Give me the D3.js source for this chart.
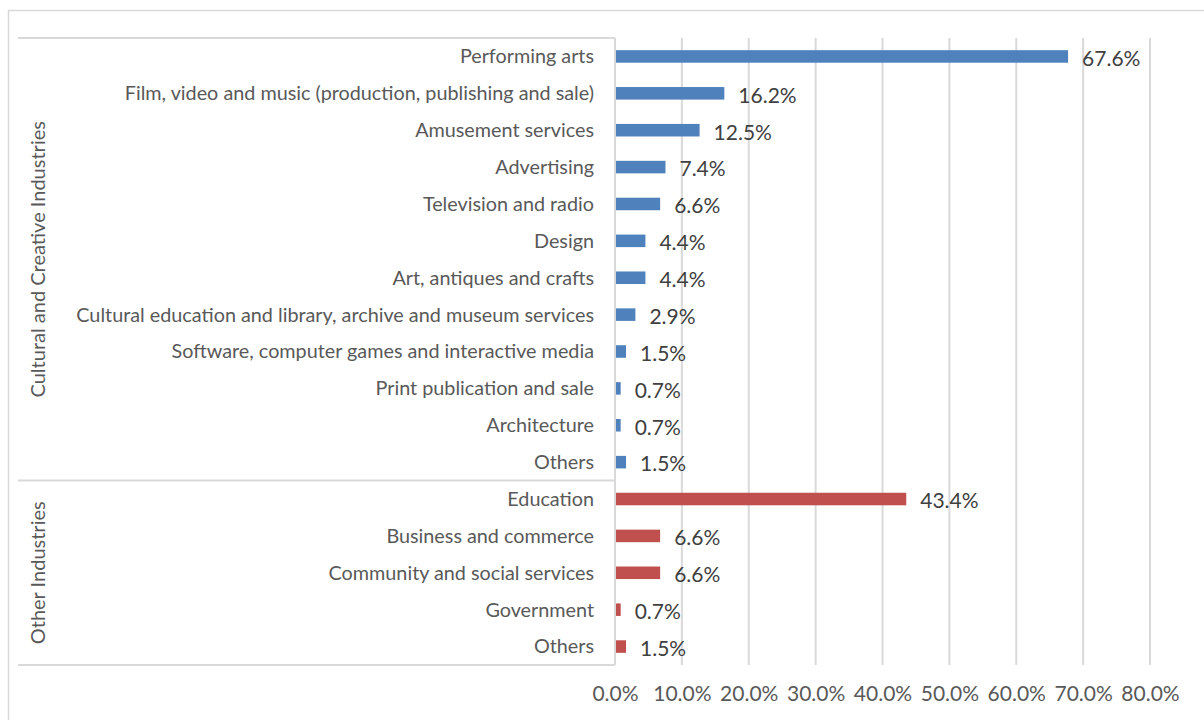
<meta charset="utf-8">
<style>
body { margin: 0; background: #fff; }
text { font-family: Lato, "Open Sans", sans-serif; }
.grid line { stroke: #d9d9d9; stroke-width: 2; }
</style>
<body>
<div id="chart"></div>
<script src="https://cdn.jsdelivr.net/npm/d3@7"></script>
<script>
// categories and values (share of respondents, %)
var groups = ["Cultural and Creative Industries", "Other Industries"];
var ccCategories = ["Performing arts", "Film, video and music (production, publishing and sale)",
  "Amusement services", "Advertising", "Television and radio", "Design",
  "Art, antiques and crafts", "Cultural education and library, archive and museum services",
  "Software, computer games and interactive media", "Print publication and sale",
  "Architecture", "Others"];
var ccValues = [67.6, 16.2, 12.5, 7.4, 6.6, 4.4, 4.4, 2.9, 1.5, 0.7, 0.7, 1.5];
var otherCategories = ["Education", "Business and commerce", "Community and social services", "Government", "Others"];
var otherValues = [43.4, 6.6, 6.6, 0.7, 1.5];
var xTicks = [0, 10, 20, 30, 40, 50, 60, 70, 80];
var colors = ["#4f81bd", "#c0504d"];

var rows = [];
ccCategories.forEach(function(c, i) { rows.push({key: "a" + i, group: 0, name: c, value: ccValues[i]}); });
otherCategories.forEach(function(c, i) { rows.push({key: "b" + i, group: 1, name: c, value: otherValues[i]}); });

var W = 1204, H = 720;
var margin = {top: 38, right: 54, bottom: 55, left: 615};

var svg = d3.select("#chart").append("svg")
  .attr("width", W).attr("height", H);

// outer frame
svg.append("rect")
  .attr("x", 8.5).attr("y", 10.5)
  .attr("width", W + 20).attr("height", H + 20)
  .attr("fill", "none").attr("stroke", "#d9d9d9").attr("stroke-width", 1.5);

var x = d3.scaleLinear().domain([0, 80]).range([margin.left, W - margin.right]);
var y = d3.scaleBand().domain(rows.map(function(d) { return d.key; }))
  .range([margin.top, H - margin.bottom]).paddingInner(0.66).paddingOuter(0.33);
var step = y.step();

// gridlines
svg.append("g").attr("class", "grid")
  .selectAll("line").data(xTicks.slice(1)).enter().append("line")
  .attr("x1", function(d) { return x(d); }).attr("x2", function(d) { return x(d); })
  .attr("y1", margin.top).attr("y2", H - margin.bottom);

// x axis labels
var xAxis = d3.axisBottom(x).tickValues(xTicks)
  .tickFormat(function(d) { return d.toFixed(1) + "%"; }).tickSize(0).tickPadding(21);
var gx = svg.append("g").attr("transform", "translate(0," + (H - margin.bottom) + ")").call(xAxis);
gx.select(".domain").remove();
gx.selectAll("text").style("font-family", "Lato, sans-serif").style("font-size", "21px").attr("fill", "#595959");

// group separators (multi-level category axis)
var boundaries = [margin.top, margin.top + step * ccCategories.length, H - margin.bottom];
svg.append("g").selectAll("line").data(boundaries).enter().append("line")
  .attr("x1", 18).attr("x2", margin.left)
  .attr("y1", function(d) { return d; }).attr("y2", function(d) { return d; })
  .attr("stroke", "#d9d9d9").attr("stroke-width", 2);
svg.append("line")
  .attr("x1", margin.left).attr("x2", margin.left)
  .attr("y1", margin.top).attr("y2", H - margin.bottom)
  .attr("stroke", "#d9d9d9").attr("stroke-width", 2);

// group labels
svg.append("g").selectAll("text").data(groups).enter().append("text")
  .attr("transform", function(d, i) {
    var cy = (boundaries[i] + boundaries[i + 1]) / 2;
    return "translate(38," + cy + ") rotate(-90)";
  })
  .attr("text-anchor", "middle").attr("dy", "0.35em")
  .style("font-size", "20px").attr("fill", "#595959")
  .text(function(d) { return d; });

// category labels
svg.append("g").selectAll("text").data(rows).enter().append("text")
  .attr("x", margin.left - 21)
  .attr("y", function(d) { return y(d.key) + y.bandwidth() / 2; })
  .attr("dy", "0.35em").attr("text-anchor", "end")
  .style("font-size", "19.8px").attr("fill", "#595959")
  .text(function(d) { return d.name; });

// bars
svg.append("g").selectAll("rect").data(rows).enter().append("rect")
  .attr("x", x(0) + 1)
  .attr("y", function(d) { return y(d.key); })
  .attr("width", function(d) { return x(d.value) - x(0); })
  .attr("height", y.bandwidth())
  .attr("fill", function(d) { return colors[d.group]; });

// value labels
svg.append("g").selectAll("text").data(rows).enter().append("text")
  .attr("x", function(d) { return x(d.value) + 15; })
  .attr("y", function(d) { return y(d.key) + y.bandwidth() / 2 + 2; })
  .attr("dy", "0.35em")
  .style("font-size", "21px").attr("fill", "#404040")
  .text(function(d) { return d.value.toFixed(1) + "%"; });
</script>
</body>
